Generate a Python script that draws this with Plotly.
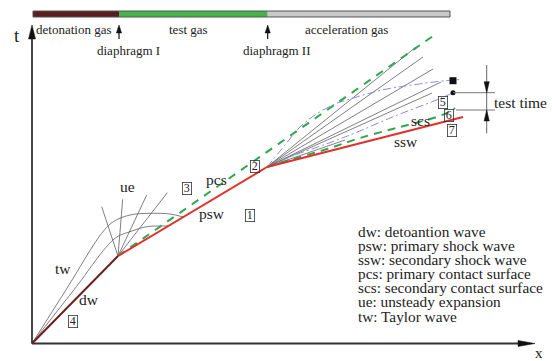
import plotly.graph_objects as go

# ---------------------------------------------------------------
# x-t wave diagram of a detonation-driven expansion tube
# coordinates are (x, t) in diagram units
# ---------------------------------------------------------------

# tube sections shown in the bar above the diagram
GAS_NAMES = ["detonation gas", "test gas", "acceleration gas"]
GAS_EDGES = [1, 87, 235.7, 418]
GAS_COLORS = ["#5a1d1d", "#45b549", "#c9c9c9"]
DIAPHRAGM_X = [87, 235.7]
DIAPHRAGM_NAMES = ["diaphragm I", "diaphragm II"]

# main wave paths
DW_X, DW_T = [0, 86], [0, 87.5]                 # detonation wave
PSW_X, PSW_T = [86, 235], [87.5, 176.5]         # primary shock wave
SSW_X, SSW_T = [235, 431], [176.5, 226.5]       # secondary shock wave
PCS_X, PCS_T = [86, 401], [87.5, 307.5]         # primary contact surface
SCS_X = [235, 260, 295, 328, 368, 403, 418, 423]             # secondary contact surface
SCS_T = [176.5, 184.2, 194.5, 205.5, 216.5, 226, 232, 235.5]

# Taylor wave characteristics (bending into the primary shock)
TW1_X = [0, 35, 69.7, 81.3, 98, 118, 138, 151.3]
TW1_T = [0, 55.3, 110.2, 121.8, 128.5, 130.2, 129.5, 126.5]
TW2_X = [0, 42, 83, 98, 114.7, 128, 136.3]
TW2_T = [0, 53.8, 105.2, 111.8, 116.8, 117.5, 117.5]

# unsteady expansion fan at diaphragm I
UE_END_X = [69.7, 90.7, 114.7, 135.3]
UE_END_T = [136.8, 144.2, 148.5, 150.8]

# unsteady expansion fan at diaphragm II
FAN_END_X = [384, 391, 401, 409, 400, 313]
FAN_END_T = [296.5, 286.5, 274.5, 261.5, 250.5, 203.5]

# boundaries of the test slug
UPPER_X = [235, 253, 268, 283, 303, 318, 350, 380, 415, 428]
UPPER_T = [176.5, 198.5, 216.5, 228.5, 239.5, 244.5, 253.5, 258.5, 263, 264]
LOWER_X = [235, 263, 297, 323, 363, 407, 421]
LOWER_T = [176.5, 188.5, 200.5, 210.5, 227.5, 244.5, 250.8]
TEST_START = (421, 262.8)
TEST_END = (421, 250.8)

# test-time bracket
BRACKET_X = 454.7
BRACKET_TOP, BRACKET_BOTTOM = 250.8, 233.5

# region numbers
REGION_NUM = ["1", "2", "3", "4", "5", "6", "7"]
REGION_X = [218, 223, 154.7, 41.3, 410.7, 417.3, 420]
REGION_T = [128.5, 176.8, 155.2, 21.8, 241.2, 228.5, 213.5]

# wave names written on the diagram
WAVE_LABELS = ["tw", "dw", "ue", "pcs", "psw", "scs", "ssw"]
WAVE_LABEL_X = [31.3, 57.3, 95.7, 184.7, 179.7, 388.3, 374]
WAVE_LABEL_T = [75.2, 44.2, 157.5, 164.2, 130.2, 222.8, 201.8]

# key of abbreviations
KEY_LINES = [
    "dw: detoantion wave",
    "psw: primary shock wave",
    "ssw: secondary shock wave",
    "pcs: primary contact surface",
    "scs: secondary contact surface",
    "ue: unsteady expansion",
    "tw: Taylor wave",
]

SERIF = "Liberation Serif, Times New Roman, serif"
INK = "#222222"
RED = "#e0302e"
GREEN = "#2fa64f"
BLUE = "#8c8ce0"
GRAY = "#5e5e5e"

fig = go.Figure()


def line(xs, ts, color, width, dash="solid", shape="linear"):
    fig.add_trace(go.Scatter(
        x=xs, y=ts, mode="lines", hoverinfo="skip",
        line=dict(color=color, width=width, dash=dash, shape=shape, smoothing=1.0),
    ))


def arrow_head(tip_x, tip_t, dx, dt, length, half_width, color="#111111"):
    # filled triangle whose tip sits at (tip_x, tip_t), pointing along (dx, dt)
    bx, bt = tip_x - dx * length, tip_t - dt * length
    px, pt = -dt * half_width, dx * half_width
    fig.add_trace(go.Scatter(
        x=[tip_x, bx + px, bx - px, tip_x],
        y=[tip_t, bt + pt, bt - pt, tip_t],
        mode="lines", fill="toself", fillcolor=color,
        line=dict(color=color, width=0.5), hoverinfo="skip",
    ))


# axes with arrow heads
line([0, 0], [0, 306], "#333333", 1.8)
arrow_head(0, 318.5, 0, 1, 14, 3.5)
line([0, 488], [0, 0], "#333333", 1.8)
arrow_head(503, 0, 1, 0, 17, 3)

# gas bar
shapes = []
for i, name in enumerate(GAS_NAMES):
    shapes.append(dict(
        type="rect", xref="x", yref="y",
        x0=GAS_EDGES[i], x1=GAS_EDGES[i + 1], y0=326.5, y1=332.5,
        fillcolor=GAS_COLORS[i], line=dict(width=0),
    ))
shapes.append(dict(
    type="rect", xref="x", yref="y",
    x0=GAS_EDGES[0], x1=GAS_EDGES[-1], y0=326.5, y1=332.5,
    fillcolor="rgba(0,0,0,0)", line=dict(color="#555555", width=1),
))

# diaphragm arrows
for dx in DIAPHRAGM_X:
    line([dx, dx], [304.5, 312], "#111111", 1.2)
    arrow_head(dx, 318.5, 0, 1, 8, 2.6)

# Taylor wave characteristics
line(TW1_X, TW1_T, GRAY, 0.8, shape="spline")
line(TW2_X, TW2_T, GRAY, 0.8, shape="spline")

# expansion fan at diaphragm I
for ex, et in zip(UE_END_X, UE_END_T):
    line([PSW_X[0], ex], [PSW_T[0], et], GRAY, 0.8)

# expansion fan at diaphragm II
for ex, et in zip(FAN_END_X, FAN_END_T):
    line([SSW_X[0], ex], [SSW_T[0], et], GRAY, 0.8)

# test slug boundaries
line(UPPER_X, UPPER_T, BLUE, 1, dash="8px,3px,2px,3px", shape="spline")
line(LOWER_X, LOWER_T, BLUE, 1, dash="8px,3px,2px,3px", shape="spline")

# contact surfaces
line(PCS_X, PCS_T, GREEN, 2, dash="8px,7px")
line(SCS_X, SCS_T, GREEN, 2, dash="8px,6px", shape="spline")

# detonation and shock waves
line(DW_X, DW_T, "#6a2020", 2)
line(PSW_X, PSW_T, RED, 2)
line(SSW_X, SSW_T, RED, 2)

# test time markers
fig.add_trace(go.Scatter(
    x=[TEST_START[0]], y=[TEST_START[1]], mode="markers", hoverinfo="skip",
    marker=dict(symbol="square", size=7, color="#111111"),
))
fig.add_trace(go.Scatter(
    x=[TEST_END[0]], y=[TEST_END[1]], mode="markers", hoverinfo="skip",
    marker=dict(symbol="circle", size=5, color="#111111"),
))
line([TEST_END[0], 463], [BRACKET_TOP, BRACKET_TOP], "#777777", 1)
line([424, 463], [BRACKET_BOTTOM, BRACKET_BOTTOM], "#777777", 1)
line([BRACKET_X, BRACKET_X], [278.5, 210.2], "#555555", 0.9)
arrow_head(BRACKET_X, BRACKET_TOP, 0, -1, 11, 2.6)
arrow_head(BRACKET_X, BRACKET_BOTTOM, 0, 1, 11, 2.6)

annotations = []


def text(x, t, s, size, xanchor="center"):
    annotations.append(dict(
        x=x, y=t, xref="x", yref="y", text=s, showarrow=False,
        xanchor=xanchor, yanchor="middle",
        font=dict(family=SERIF, size=size, color=INK),
    ))


# bar labels
gas_centers = [41, 156, 314]
for name, cx in zip(GAS_NAMES, gas_centers):
    text(cx, 314.5, name, 13)
for name, dx in zip(DIAPHRAGM_NAMES, DIAPHRAGM_X):
    text(dx + 9.5, 293, name, 13)

# axis labels
text(-15.3, 308.5, "t", 19)
text(507.3, -9.5, "x", 15)

# wave names
for s, x, t in zip(WAVE_LABELS, WAVE_LABEL_X, WAVE_LABEL_T):
    text(x, t, s, 15.5)

# region numbers in boxes
for s, x, t in zip(REGION_NUM, REGION_X, REGION_T):
    annotations.append(dict(
        x=x, y=t, xref="x", yref="y", text=s, showarrow=False,
        xanchor="center", yanchor="middle", width=8, height=11,
        borderpad=0, bordercolor="#333333", borderwidth=0.8,
        font=dict(family=SERIF, size=12, color=INK),
    ))

text(459.7, 240.8, "test time", 15.5, xanchor="left")

# abbreviation key
for i, s in enumerate(KEY_LINES):
    text(324, 111.8 - i * 14.05, s, 15.3, xanchor="left")

fig.update_layout(
    width=552, height=361,
    margin=dict(l=0, r=0, t=0, b=0),
    paper_bgcolor="white", plot_bgcolor="white",
    showlegend=False,
    shapes=shapes,
    annotations=annotations,
    xaxis=dict(range=[-32, 520], visible=False, fixedrange=True),
    yaxis=dict(range=[-17.5, 343.5], visible=False, fixedrange=True),
)

fig.write_html("out.html")
